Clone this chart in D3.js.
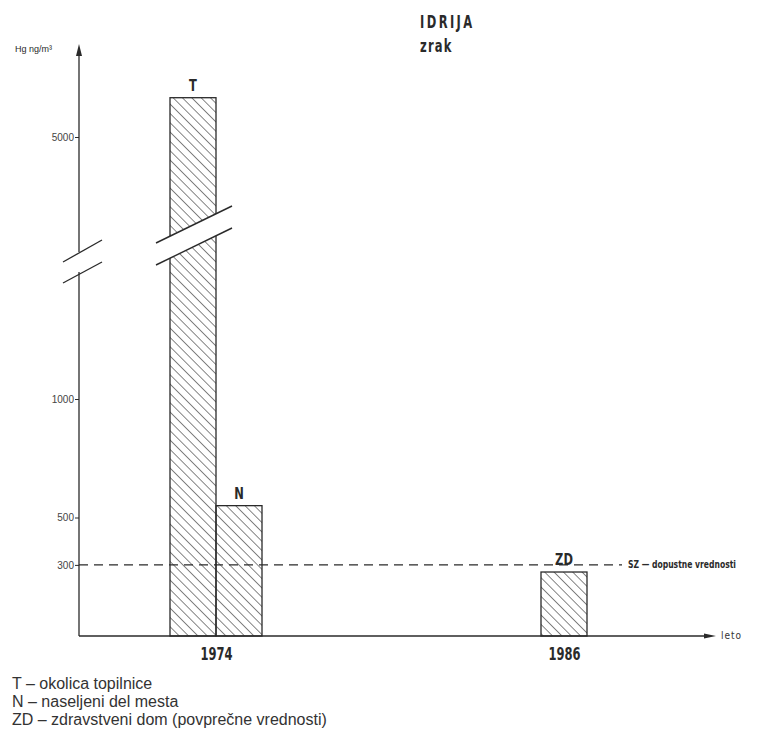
<!DOCTYPE html>
<html><head><meta charset="utf-8">
<script src="https://cdn.jsdelivr.net/npm/d3@7"></script>
<style>body{margin:0;background:#fff}svg{display:block}</style>
</head><body>
<script>
const years = [1974, 1986];
const barLabels = ["T", "N", "ZD"];
const barYears = [1974, 1974, 1986];
const barSlots = [-1, 0, -0.5];      // position relative to year centre, in bar widths
const barValues = [5600, 550, 270];
const tickValues = [300, 500, 1000, 5000];
const limitValue = 300;
const legendLines = ["T \u2013 okolica topilnice", "N \u2013 naseljeni del mesta", "ZD \u2013 zdravstveni dom (povpre\u010dne vrednosti)"];

const W = 783, H = 739;
const svg = d3.select("body").append("svg").attr("width", W).attr("height", H);
const ink = "#2a2a2a";
const cond = "DejaVu Sans Condensed, DejaVu Sans";

const x = d3.scaleLinear().domain([1974, 1986]).range([216, 564]);
const y = d3.scaleLinear().domain([0, 1000, 5000]).range([636, 399, 137]);
const bw = 46;
const axisX = 79, baseY = y(0);

// hatch pattern
const defs = svg.append("defs");
const pat = defs.append("pattern").attr("id", "hatch").attr("patternUnits", "userSpaceOnUse")
  .attr("width", 6.6).attr("height", 6.6).attr("patternTransform", "rotate(-45)");
pat.append("line").attr("x1", 0).attr("y1", 0).attr("x2", 0).attr("y2", 6.6)
  .attr("stroke", "#333").attr("stroke-width", 1.2);

// bars
const bars = barValues.map((v, i) => ({v, label: barLabels[i], year: barYears[i], slot: barSlots[i]}));
svg.selectAll("rect.bar").data(bars).enter().append("rect").attr("class", "bar")
  .attr("x", d => x(d.year) + d.slot * bw)
  .attr("y", d => y(d.v))
  .attr("width", bw)
  .attr("height", d => baseY - y(d.v))
  .attr("fill", "url(#hatch)").attr("stroke", ink).attr("stroke-width", 1.3);

svg.selectAll("text.blab").data(bars).enter().append("text").attr("class", "blab")
  .attr("transform", d => `translate(${x(d.year) + d.slot * bw + bw / 2},${y(d.v) - 7}) scale(0.85,1.1)`)
  .attr("text-anchor", "middle")
  .attr("font-family", cond)
  .attr("font-weight", "bold").attr("font-size", 15).attr("fill", ink)
  .text(d => d.label);

// break on bar T
const tBar = bars[0];
const bx0 = x(tBar.year) + tBar.slot * bw;
svg.append("polygon")
  .attr("points", [[bx0 - 14, 243], [bx0 + 62, 206], [bx0 + 62, 228], [bx0 - 14, 265]].map(p => p.join(",")).join(" "))
  .attr("fill", "#fff");
[[243, 206], [265, 228]].forEach(([a, b]) => {
  svg.append("line").attr("x1", bx0 - 14).attr("y1", a).attr("x2", bx0 + 62).attr("y2", b)
    .attr("stroke", ink).attr("stroke-width", 1.4);
});

// y axis
svg.append("line").attr("x1", axisX).attr("y1", baseY).attr("x2", axisX).attr("y2", 272).attr("stroke", ink).attr("stroke-width", 1.3);
svg.append("line").attr("x1", axisX).attr("y1", 252).attr("x2", axisX).attr("y2", 52).attr("stroke", ink).attr("stroke-width", 1.3);
svg.append("path").attr("d", `M${axisX - 3},56 L${axisX},44 L${axisX + 3},56 Z`).attr("fill", ink);
[[283, 262], [262, 240]].forEach(([a, b]) => {
  svg.append("line").attr("x1", 63).attr("y1", a).attr("x2", 102).attr("y2", b).attr("stroke", ink).attr("stroke-width", 1.3);
});
const yAxis = d3.axisLeft(y).tickValues(tickValues).tickSize(4).tickFormat(d3.format("d"));
const ya = svg.append("g").attr("transform", `translate(${axisX},0)`).call(yAxis);
ya.select(".domain").remove();
ya.selectAll("line").attr("stroke", ink);
ya.selectAll("text").attr("font-family", "Liberation Sans, Arial").attr("font-size", 10).attr("fill", "#444").attr("dx", 2);
svg.append("text").attr("x", 15).attr("y", 52).attr("font-family", "Liberation Sans, Arial").attr("font-size", 9)
  .attr("fill", ink).text("Hg ng/m\u00b3");

// x axis
svg.append("line").attr("x1", axisX).attr("y1", baseY).attr("x2", 708).attr("y2", baseY).attr("stroke", ink).attr("stroke-width", 1.3);
svg.append("path").attr("d", `M704,${baseY - 2.5} L716,${baseY} L704,${baseY + 2.5} Z`).attr("fill", ink);
svg.append("text").attr("x", 721).attr("y", baseY + 3).attr("font-family", cond)
  .attr("font-size", 10).attr("letter-spacing", 1).attr("fill", "#333").text("leto");
const xAxis = d3.axisBottom(x).tickValues(years).tickSize(0).tickFormat(d3.format("d"));
const xa = svg.append("g").attr("transform", `translate(0,${baseY})`).call(xAxis);
xa.select(".domain").remove();
xa.selectAll(".tick text").attr("font-family", cond).attr("font-weight", "bold")
  .attr("font-size", 16).attr("fill", ink).attr("dy", 0).attr("y", 0)
  .attr("transform", "translate(0,24) scale(0.8,1.1)");

// limit line
svg.append("line").attr("x1", axisX).attr("y1", y(limitValue)).attr("x2", 622).attr("y2", y(limitValue))
  .attr("stroke", ink).attr("stroke-width", 1.1).attr("stroke-dasharray", "9,6");
svg.append("text").attr("transform", `translate(628,${y(limitValue) + 3}) scale(0.85,1)`).attr("font-family", cond)
  .attr("font-weight", "bold").attr("font-size", 10).attr("fill", ink).text("SZ \u2014 dopustne vrednosti");

// title
svg.append("text").attr("transform", "translate(420,28) scale(0.8,1.1)").attr("font-family", cond)
  .attr("font-weight", "bold").attr("font-size", 16).attr("letter-spacing", 3).attr("fill", ink).text("IDRIJA");
svg.append("text").attr("transform", "translate(420,52) scale(0.8,1.1)").attr("font-family", cond)
  .attr("font-weight", "bold").attr("font-size", 16).attr("letter-spacing", 1.5).attr("fill", ink).text("zrak");

// legend
svg.selectAll("text.leg").data(legendLines).enter().append("text").attr("class", "leg")
  .attr("x", 12).attr("y", (d, i) => 689 + i * 18)
  .attr("font-family", "Liberation Sans, Arial").attr("font-size", 16).attr("fill", "#333")
  .text(d => d);
</script>
</body></html>
